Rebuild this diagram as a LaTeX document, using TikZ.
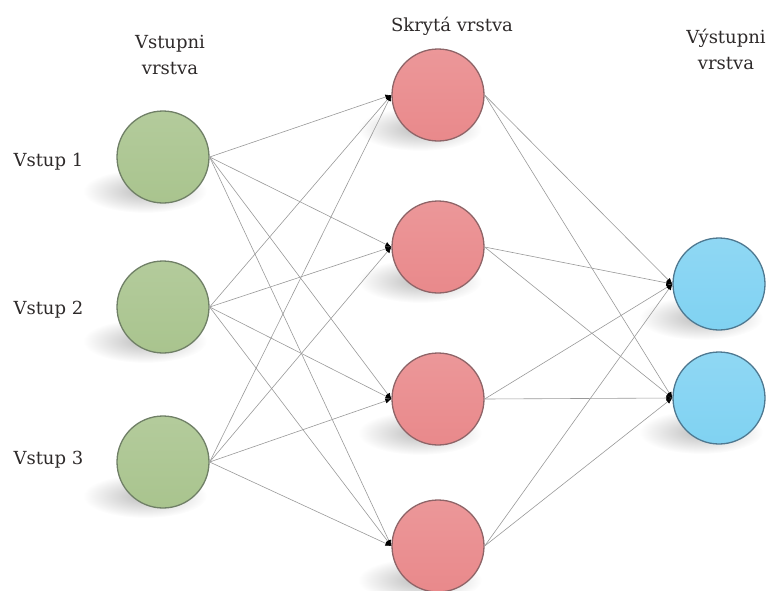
\documentclass[tikz,border=0pt]{standalone}
\usepackage{fontspec}
\setmainfont{DejaVu Serif}
\usetikzlibrary{arrows.meta}
\definecolor{ingreen}{HTML}{A9C48E}
\definecolor{inborder}{HTML}{6F7F66}
\definecolor{hidpink}{HTML}{E9898B}
\definecolor{hidborder}{HTML}{8E6467}
\definecolor{outblue}{HTML}{80D2F2}
\definecolor{outborder}{HTML}{4E7890}
\definecolor{txt}{HTML}{2E2A2A}
\definecolor{wire}{HTML}{999999}
\tikzset{
  neuron/.style={circle, minimum size=92pt, inner sep=0pt, line width=1.3pt},
  innode/.style={neuron, draw=inborder, top color=ingreen!88!white, bottom color=ingreen},
  hidnode/.style={neuron, draw=hidborder, top color=hidpink!88!white, bottom color=hidpink},
  outnode/.style={neuron, draw=outborder, top color=outblue!88!white, bottom color=outblue},
  floorshadow/.style={inner color=black!26, outer color=white},
  caption/.style={text=txt, font=\fontsize{18}{26}\selectfont, align=center},
  synapse/.style={draw=wire, line width=0.6pt, -{Latex[length=6pt,width=5pt,color=black]}}
}
\begin{document}
\begin{tikzpicture}[x=1pt,y=-1pt]
\useasboundingbox (0,0) rectangle (772,590);
% soft shadows on the floor, lower left of every neuron
\foreach \cx/\cy in {163/157,163/307,163/462,438/95,438/247,438/399,438/546,719/284,719/398}
  \shade[floorshadow] (\cx-18,\cy+34) ellipse [x radius=62pt, y radius=22pt];
% input layer
\node[innode] (i1) at (163,157) {};
\node[innode] (i2) at (163,307) {};
\node[innode] (i3) at (163,462) {};
% hidden layer
\node[hidnode] (h1) at (438,95) {};
\node[hidnode] (h2) at (438,247) {};
\node[hidnode] (h3) at (438,399) {};
\node[hidnode] (h4) at (438,546) {};
% output layer
\node[outnode] (o1) at (719,284) {};
\node[outnode] (o2) at (719,398) {};
% connections
\foreach \a in {i1,i2,i3}
  \foreach \b in {h1,h2,h3,h4}
    \draw[synapse] (\a.east) -- (\b.west);
\foreach \a in {h1,h2,h3,h4}
  \foreach \b in {o1,o2}
    \draw[synapse] (\a.east) -- (\b.west);
% captions
\node[caption] (tin) at (170,55) {Vstupni\\vrstva};
\node[caption] (thid) at (452,26) {Skrytá vrstva};
\node[caption] (tout) at (726,49) {Výstupni\\vrstva};
\node[caption, anchor=west] (l1) at (10,162) {Vstup 1};
\node[caption, anchor=west] (l2) at (10,310) {Vstup 2};
\node[caption, anchor=west] (l3) at (10,460) {Vstup 3};
\end{tikzpicture}
\end{document}
